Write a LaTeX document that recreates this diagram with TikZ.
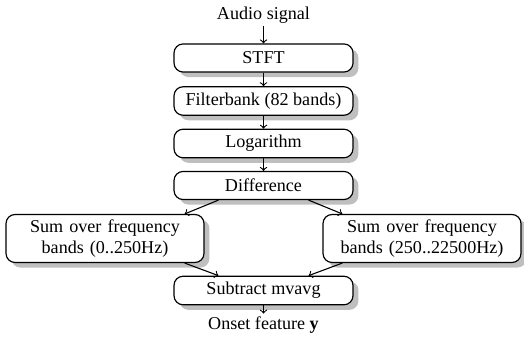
\documentclass[tikz,border=0pt]{standalone}
\usepackage{fontspec}
\setmainfont{Liberation Serif}
\usepackage{tikz}
\usetikzlibrary{arrows, shadows, positioning, calc}
\tikzset{
    blok/.style={draw, line width=0.65pt, rounded corners=5pt, fill=white,
        minimum width=98.9pt, minimum height=15.5pt,
        drop shadow={shadow xshift=3pt, shadow yshift=-2.8pt,
            fill=black!25, opacity=1}},
    zbroj/.style={blok, minimum width=109.4pt, minimum height=26.5pt,
        text width=96pt, align=center, inner sep=2pt},
    tok/.style={->, semithick}
}

\begin{document}
\begin{tikzpicture}[x=0.5525pt, y=-0.5525pt]
    \useasboundingbox (0,0) rectangle (524,343);

%ulaz i izlaz
    \node[inner sep=1.5pt] (audio) at (263.5,15) {Audio signal};
    \node[inner sep=1.5pt] (onset) at (263.5,325) {Onset feature $\mathbf{y}$};

%blokovi
    \node[blok] (stft) at (263.5,58) {STFT};
    \node[blok] (filter) at (263.5,101) {Filterbank (82 bands)};
    \node[blok] (log) at (263.5,143.5) {Logarithm};
    \node[blok] (diff) at (263.5,185.5) {Difference};
    \node[zbroj] (low) at (105,238.5) {Sum over frequency bands (0..250Hz)};
    \node[zbroj] (high) at (422,238.5) {Sum over frequency bands (250..22500Hz)};
    \node[blok] (sub) at (263.5,290.5) {Subtract mvavg};

%strelice
    \draw[tok] (audio) -- (stft);
    \draw[tok] (stft) -- (filter);
    \draw[tok] (filter) -- (log);
    \draw[tok] (log) -- (diff);
    \draw[tok] ($(diff.south)!0.5!(diff.south west)$) -- ([xshift=-11pt]low.north east);
    \draw[tok] ($(diff.south)!0.5!(diff.south east)$) -- ([xshift=11pt]high.north west);
    \draw[tok] ([xshift=-11pt]low.south east) -- ($(sub.north)!0.5!(sub.north west)$);
    \draw[tok] ([xshift=11pt]high.south west) -- ($(sub.north)!0.5!(sub.north east)$);
    \draw[tok] (sub) -- (onset);
\end{tikzpicture}
\end{document}
